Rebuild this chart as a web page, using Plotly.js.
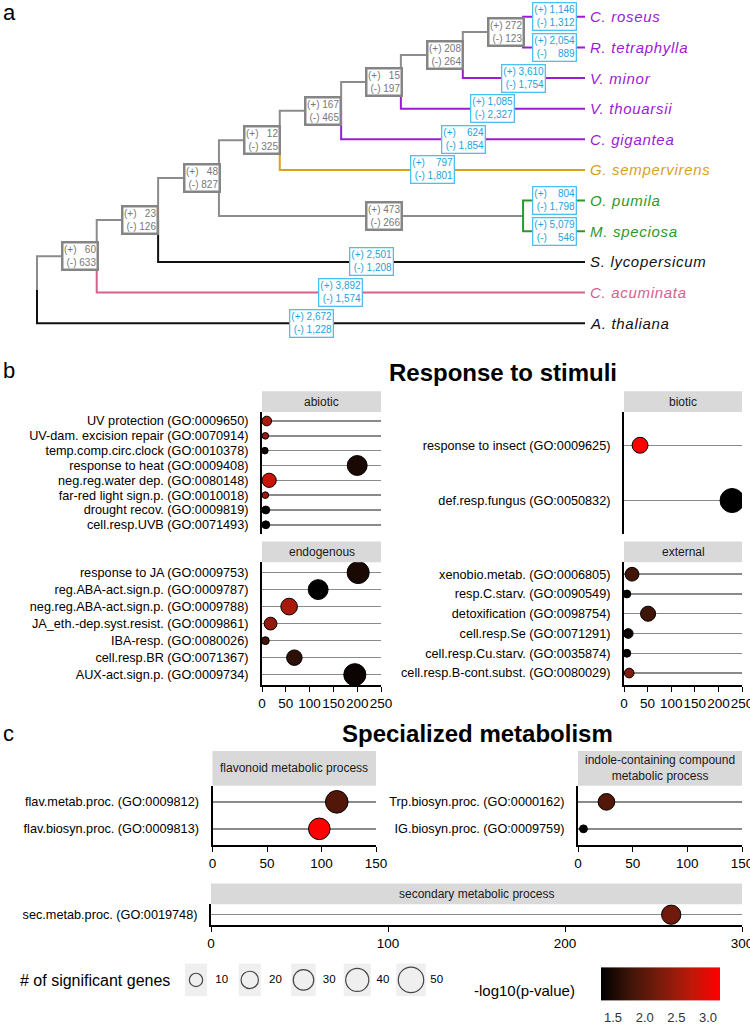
<!DOCTYPE html>
<html><head><meta charset="utf-8">
<script src="https://cdn.plot.ly/plotly-3.0.1.min.js"></script>
<style>html,body{margin:0;padding:0;background:#fff}</style>
</head><body><div id="chart" style="width:750px;height:1026px"></div>
<script>
// ================= DATA =================
// Panel a: species tree with gene family gains (+) and losses (-)
const tipNames = ["C. roseus","R. tetraphylla","V. minor","V. thouarsii","C. gigantea","G. sempervirens","O. pumila","M. speciosa","S. lycopersicum","C. acuminata","A. thaliana"];
const tipFamily = ["Apocynaceae","Apocynaceae","Apocynaceae","Apocynaceae","Apocynaceae","Gelsemiaceae","Rubiaceae","Rubiaceae","Solanaceae","Nyssaceae","Brassicaceae"];
const tipGain = [1146,2054,3610,1085,624,797,804,5079,2501,3892,2672];
const tipLoss = [1312,889,1754,2327,1854,1801,1798,546,1208,1574,1228];
const nodeIds = ["N9","N8","N7","N6","N5","N10","N4","N3","N2","N1"];
const nodeChildren = [["C. roseus","R. tetraphylla"],["N9","V. minor"],["N8","V. thouarsii"],["N7","C. gigantea"],["N6","G. sempervirens"],["O. pumila","M. speciosa"],["N5","N10"],["N4","S. lycopersicum"],["N3","C. acuminata"],["N2","A. thaliana"]];
const nodeDepth = [88.7,77.7,66.4,55.5,44.3,88.7,33.2,22.1,10.9,0];
const nodeGain = [272,208,15,167,12,473,48,23,60,null];
const nodeLoss = [123,264,197,465,325,266,827,126,633,null];

// Panel b: Response to stimuli
const abioticTerms = ["UV protection (GO:0009650)","UV-dam. excision repair (GO:0070914)","temp.comp.circ.clock (GO:0010378)","response to heat (GO:0009408)","neg.reg.water dep. (GO:0080148)","far-red light sign.p. (GO:0010018)","drought recov. (GO:0009819)","cell.resp.UVB (GO:0071493)"];
const abioticScore = [10,7,6,200,15,7,8,8];
const abioticGenes = [4,1,1,28,12,1,2,2];
const abioticLogP = [2.6,2.5,1.45,1.5,2.8,2.5,1.31,1.31];

const bioticTerms = ["response to insect (GO:0009625)","def.resp.fungus (GO:0050832)"];
const bioticScore = [34,229];
const bioticGenes = [16,44];
const bioticLogP = [3.19,1.31];

const endogenousTerms = ["response to JA (GO:0009753)","reg.ABA-act.sign.p. (GO:0009787)","neg.reg.ABA-act.sign.p. (GO:0009788)","JA_eth.-dep.syst.resist. (GO:0009861)","IBA-resp. (GO:0080026)","cell.resp.BR (GO:0071367)","AUX-act.sign.p. (GO:0009734)"];
const endogenousScore = [202,118,57,18,7,68,195];
const endogenousGenes = [36,28,18,9,2,15,36];
const endogenousLogP = [1.5,1.31,2.6,2.45,1.78,1.65,1.4];

const externalTerms = ["xenobio.metab. (GO:0006805)","resp.C.starv. (GO:0090549)","detoxification (GO:0098754)","cell.resp.Se (GO:0071291)","cell.resp.Cu.starv. (GO:0035874)","cell.resp.B-cont.subst. (GO:0080029)"];
const externalScore = [17,6,51,9,6,11];
const externalGenes = [11,2,14,4,2,4];
const externalLogP = [1.8,1.31,1.78,1.4,1.31,2.3];

// Panel c: Specialized metabolism
const flavonoidTerms = ["flav.metab.proc. (GO:0009812)","flav.biosyn.proc. (GO:0009813)"];
const flavonoidScore = [114,98];
const flavonoidGenes = [38,34];
const flavonoidLogP = [1.93,3.19];

const indoleTerms = ["Trp.biosyn.proc. (GO:0000162)","IG.biosyn.proc. (GO:0009759)"];
const indoleScore = [26,5];
const indoleGenes = [18,2];
const indoleLogP = [1.93,1.31];

const secondaryTerms = ["sec.metab.proc. (GO:0019748)"];
const secondaryScore = [260];
const secondaryGenes = [26];
const secondaryLogP = [2.17];

// Legends
const sizeLegendValues = [10,20,30,40,50];
const colorTickValues = [1.5,2.0,2.5,3.0];
const colorRange = [1.31,3.19];

// ================= STYLE / LAYOUT =================
const W = 750, H = 1026;
const FONT = 'Liberation Sans, Arial, Helvetica, sans-serif';
const px2x = p => p / W;
const px2y = p => 1 - p / H;
const famColor = {Apocynaceae:'#9B1BD6', Gelsemiaceae:'#D9A11E', Rubiaceae:'#2C992C', Solanaceae:'#111111', Nyssaceae:'#D8608E', Brassicaceae:'#111111'};
const GRAY = '#8c8c8c';
const BLUE_BORDER = '#4cc0f2', BLUE_TEXT = '#1f9fdc';
const dia = n => 3.1 * Math.sqrt(n) + 3.5;   // size scale

const traces = [];
const shapes = [];
const annotations = [];
const layout = {
  width: W, height: H, margin:{l:0,r:0,t:0,b:0},
  paper_bgcolor:'white', plot_bgcolor:'white', showlegend:false,
  font:{family:FONT, color:'black'},
  shapes, annotations,
  coloraxis:{
    cmin: colorRange[0], cmax: colorRange[1],
    colorscale:[[0,'#000000'],[0.25,'rgb(63,21,8)'],[0.5,'rgb(122,27,12)'],[0.75,'rgb(186,25,9)'],[1,'#ff0000']],
    colorbar:{orientation:'h', x:px2x(660.5), xanchor:'center', y:px2y(1038), yanchor:'bottom',
      len:119, lenmode:'pixels', thickness:33, thicknessmode:'pixels', outlinewidth:0, xpad:0, ypad:0,
      tickvals: colorTickValues, ticktext: colorTickValues.map(v=>v.toFixed(1)),
      ticks:'outside', ticklen:7, tickwidth:1, tickcolor:'rgba(255,255,255,0)', tickangle:0,
      tickfont:{size:13, color:'#333', family:FONT}, title:{text:''}}
  }
};

// ---------- Panel a: tree ----------
const TREE_L = 30, TREE_R = 592, TREE_T = 5, TREE_B = 339;
const pxPerDepth = (585 - 37) / 100, pxPerLeaf = 31;
layout.xaxis = {domain:[px2x(TREE_L), px2x(TREE_R)], range:[(TREE_L-37)/pxPerDepth, (TREE_R-37)/pxPerDepth], visible:false, fixedrange:true};
layout.yaxis = {domain:[px2y(TREE_B), px2y(TREE_T)], range:[11 + (TREE_B-327)/pxPerLeaf, 1 - (17-TREE_T)/pxPerLeaf], visible:false, fixedrange:true};

const X = {}, Y = {}, isTip = {}, colorOf = {}, parent = {};
tipNames.forEach((t,i)=>{ X[t]=100; Y[t]=i+1; isTip[t]=true; colorOf[t]=famColor[tipFamily[i]]; });
nodeIds.forEach((id,k)=>{ X[id]=nodeDepth[k]; const c=nodeChildren[k]; Y[id]=(Y[c[0]]+Y[c[1]])/2; c.forEach(ch=>parent[ch]=id); });

const segByColor = {};
nodeIds.forEach((id,k)=>{
  nodeChildren[k].forEach(ch=>{
    const col = isTip[ch] ? colorOf[ch] : GRAY;
    if(!segByColor[col]) segByColor[col] = {x:[],y:[]};
    const s = segByColor[col];
    s.x.push(X[id], X[id], X[ch], null);
    s.y.push(Y[id], Y[ch], Y[ch], null);
  });
});
const colOrder = Object.keys(segByColor).sort((a,b)=> (a===GRAY? -1 : b===GRAY ? 1 : 0));
colOrder.forEach(col=>{
  traces.push({type:'scatter', mode:'lines', x:segByColor[col].x, y:segByColor[col].y, xaxis:'x', yaxis:'y',
    line:{color:col, width:2}, hoverinfo:'skip'});
});

function fmtPair(g,l){
  const a = g.toLocaleString('en-US'), b = l.toLocaleString('en-US');
  const pad = (s, t) => {
    const dd = (t.replace(/,/g,'').length) - (s.replace(/,/g,'').length);
    const dc = (t.split(',').length-1) - (s.split(',').length-1);
    let pre = '';
    for(let i=0;i<dd;i++) pre += '\u2007';
    for(let i=0;i<dc;i++) pre += '\u2008';
    return pre + s;
  };
  return '(+) ' + pad(a,b) + '<br>(-) ' + pad(b,a);
}
// tip boxes + labels
tipNames.forEach((t,i)=>{
  const px = X[parent[t]];
  annotations.push({xref:'x', yref:'y', x:(px+100)/2, y:Y[t], text:fmtPair(tipGain[i], tipLoss[i]), showarrow:false,
    font:{size:10, color:BLUE_TEXT, family:FONT}, align:'right', bgcolor:'white', bordercolor:BLUE_BORDER, borderwidth:1.3, borderpad:1,
    xanchor:'center', yanchor:'middle'});
  annotations.push({xref:'x', yref:'y', x:100, y:Y[t], xshift:3, text:'<i><span style="letter-spacing:0.7px">'+t+'</span></i>', showarrow:false,
    font:{size:15, color:colorOf[t], family:FONT}, xanchor:'left', yanchor:'middle'});
});
// internal boxes
nodeIds.forEach((id,k)=>{
  if(nodeGain[k]==null) return;
  const px = X[parent[id]];
  annotations.push({xref:'x', yref:'y', x:(px+X[id])/2, xshift:13, y:Y[id], text:fmtPair(nodeGain[k], nodeLoss[k]), showarrow:false,
    font:{size:10, color:'#777777', family:FONT}, align:'right', bgcolor:'white', bordercolor:'#858585', borderwidth:2.5, borderpad:0.5,
    xanchor:'center', yanchor:'middle'});
});

// ---------- Panels b & c: lollipop facets ----------
const facets = [
  {strip:'abiotic', terms:abioticTerms, x:abioticScore, n:abioticGenes, p:abioticLogP, L:262, R:381, T:417, B:540, sT:396, xmax:250, xticks:null},
  {strip:'biotic', terms:bioticTerms, x:bioticScore, n:bioticGenes, p:bioticLogP, L:624, R:742, T:417, B:540, sT:396, xmax:250, xticks:null},
  {strip:'endogenous', terms:endogenousTerms, x:endogenousScore, n:endogenousGenes, p:endogenousLogP, L:262, R:381, T:569, B:693, sT:548, xmax:250, xticks:[0,50,100,150,200,250]},
  {strip:'external', terms:externalTerms, x:externalScore, n:externalGenes, p:externalLogP, L:624, R:742, T:569, B:693, sT:548, xmax:250, xticks:[0,50,100,150,200,250]},
  {strip:'flavonoid metabolic process', terms:flavonoidTerms, x:flavonoidScore, n:flavonoidGenes, p:flavonoidLogP, L:212.5, R:376, T:795, B:855, sT:760, xmax:150, xticks:[0,50,100,150]},
  {strip:'indole-containing compound<br>metabolic process', terms:indoleTerms, x:indoleScore, n:indoleGenes, p:indoleLogP, L:578, R:742, T:795, B:855, sT:760, xmax:150, xticks:[0,50,100,150]},
  {strip:'secondary metabolic process', terms:secondaryTerms, x:secondaryScore, n:secondaryGenes, p:secondaryLogP, L:211, R:742, T:915, B:936, sT:894, xmax:300, xticks:[0,100,200,300]}
];
facets.forEach((f,k)=>{
  const j = k+2;
  const hasX = !!f.xticks;
  layout['xaxis'+j] = {domain:[px2x(f.L), px2x(f.R)], range:[0,f.xmax], anchor:'y'+j, fixedrange:true,
    showgrid:false, zeroline:false, showline:hasX, linecolor:'black', linewidth:2,
    ticks: hasX?'outside':'', ticklen:5, tickwidth:1, tickcolor:'black', tickangle:0,
    tickmode: hasX?'array':'auto', tickvals: hasX?f.xticks:undefined, showticklabels:hasX,
    ticklabeloverflow:'allow',
    tickfont:{size:13.5, color:'black', family:FONT}};
  layout['yaxis'+j] = {domain:[px2y(f.B), px2y(f.T)], anchor:'x'+j, type:'category', categoryorder:'array', categoryarray:f.terms,
    tickmode:'array', tickvals:f.terms, ticktext:f.terms,
    range:[f.terms.length-1+0.6, -0.6], fixedrange:true, showgrid:true, gridcolor:'#8a8a8a', gridwidth:1.5,
    showline:true, linecolor:'black', linewidth:2, zeroline:false, ticklabeloverflow:'allow',
    ticks:'outside', ticklen:9, tickcolor:'rgba(0,0,0,0)', tickfont:{size:12.7, color:'black', family:FONT}};
  traces.push({type:'scatter', mode:'markers', x:f.x, y:f.terms, xaxis:'x'+j, yaxis:'y'+j,
    marker:{size:f.n.map(dia), color:f.p, coloraxis:'coloraxis', line:{color:'black', width:1}, opacity:1},
    hoverinfo:'skip', showlegend:false});
  shapes.push({type:'rect', xref:'paper', yref:'paper', x0:px2x(f.L), x1:px2x(f.R), y0:px2y(f.T), y1:px2y(f.sT),
    fillcolor:'#d9d9d9', line:{width:0}, layer:'below'});
  annotations.push({xref:'paper', yref:'paper', x:px2x((f.L+f.R)/2), y:px2y((f.T+f.sT)/2), text:f.strip, showarrow:false,
    font:{size:12, color:'#1a1a1a', family:FONT}, xanchor:'center', yanchor:'middle', align:'center'});
});

// ---------- Size legend ----------
const LEG_L = 170, LEG_R = 460, LEG_C0 = 196, LEG_STEP = 53.75;
layout.xaxis9 = {domain:[px2x(LEG_L), px2x(LEG_R)], range:[(LEG_L-LEG_C0)/LEG_STEP, (LEG_R-LEG_C0)/LEG_STEP], visible:false, fixedrange:true, anchor:'y9'};
layout.yaxis9 = {domain:[px2y(1008), px2y(975)], range:[-1,1], visible:false, fixedrange:true, anchor:'x9'};
const legIdx = sizeLegendValues.map((v,i)=>i);
legIdx.forEach(i=>{
  const w = Math.max(22, dia(sizeLegendValues[i]) + 4) / LEG_STEP;
  shapes.push({type:'rect', xref:'x9', yref:'paper', x0:i-w/2, x1:i+w/2, y0:px2y(1008), y1:px2y(975), fillcolor:'#efefef', line:{width:0}, layer:'below'});
});
traces.push({type:'scatter', mode:'markers', x:legIdx, y:legIdx.map(()=>0), xaxis:'x9', yaxis:'y9',
  marker:{size:sizeLegendValues.map(dia), color:'rgba(0,0,0,0)', line:{color:'black', width:1.2}}, hoverinfo:'skip', cliponaxis:false});
traces.push({type:'scatter', mode:'text', x:legIdx.map(i=>i+0.36), y:legIdx.map(()=>0), xaxis:'x9', yaxis:'y9',
  text:sizeLegendValues.map(String), textposition:'middle right', textfont:{size:11.5, color:'black', family:FONT}, hoverinfo:'skip', cliponaxis:false});
// dummy trace carrying the colour bar
traces.push({type:'scatter', mode:'markers', x:[null], y:[null], xaxis:'x9', yaxis:'y9',
  marker:{color:[colorRange[0]], coloraxis:'coloraxis'}, hoverinfo:'skip'});

// ---------- Text ----------
annotations.push({xref:'paper', yref:'paper', x:px2x(18), y:px2y(992), text:'# of significant genes', showarrow:false,
  font:{size:16, color:'black', family:FONT}, xanchor:'left', yanchor:'middle'});
annotations.push({xref:'paper', yref:'paper', x:px2x(472), y:px2y(1002), text:'-log10(p-value)', showarrow:false,
  font:{size:15, color:'black', family:FONT}, xanchor:'left', yanchor:'middle'});
annotations.push({xref:'paper', yref:'paper', x:px2x(502.5), y:px2y(377), text:'<b>Response to stimuli</b>', showarrow:false,
  font:{size:24, color:'black', family:FONT}, xanchor:'center', yanchor:'middle'});
annotations.push({xref:'paper', yref:'paper', x:px2x(477.5), y:px2y(742), text:'<b>Specialized metabolism</b>', showarrow:false,
  font:{size:24, color:'black', family:FONT}, xanchor:'center', yanchor:'middle'});
[['a',12.5],['b',375],['c',742]].forEach(([t,yy])=>{
  annotations.push({xref:'paper', yref:'paper', x:px2x(1), y:px2y(yy), text:t, showarrow:false,
    font:{size:22, color:'black', family:FONT}, xanchor:'left', yanchor:'middle'});
});

Plotly.newPlot('chart', traces, layout, {staticPlot:true, displayModeBar:false});
</script></body></html>
